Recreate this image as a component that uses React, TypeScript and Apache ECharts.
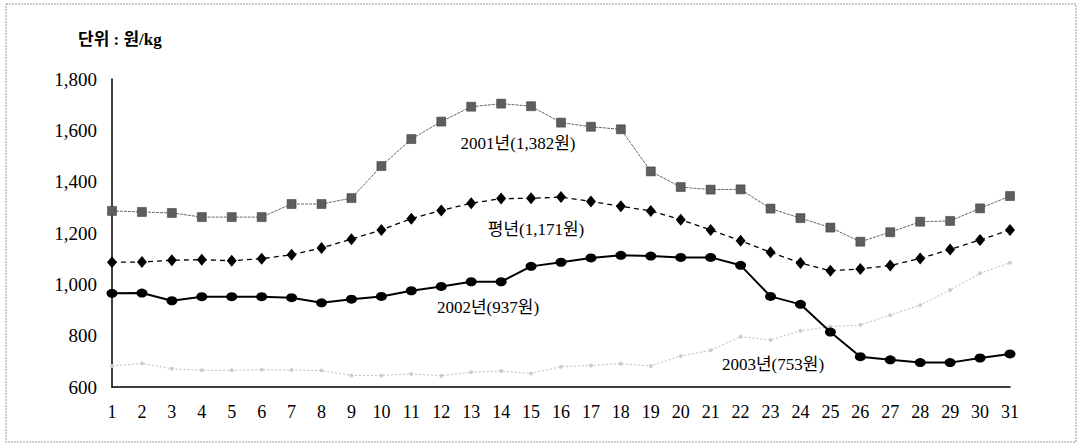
import React, { useEffect, useRef } from "react";
import * as echarts from "echarts";

const days = ["1","2","3","4","5","6","7","8","9","10","11","12","13","14","15","16","17","18","19","20","21","22","23","24","25","26","27","28","29","30","31"];
const y2001 = [1286,1282,1278,1262,1262,1262,1313,1313,1336,1461,1566,1634,1692,1704,1694,1630,1614,1604,1440,1379,1369,1370,1295,1258,1221,1166,1203,1244,1247,1296,1344];
const yAvg = [1086,1087,1094,1096,1092,1100,1115,1142,1176,1212,1256,1288,1316,1334,1335,1340,1323,1304,1286,1252,1212,1170,1125,1083,1053,1060,1073,1101,1136,1173,1212];
const y2002 = [965,966,936,952,952,952,948,928,942,953,975,992,1010,1010,1070,1086,1103,1113,1110,1105,1105,1074,953,922,814,718,706,695,695,713,729];
const y2003 = [682,692,671,665,665,667,666,664,645,645,651,644,658,662,653,679,684,691,682,721,743,796,783,819,835,842,880,919,978,1043,1084];
const seriesNames = ["2001년(1,382원)", "평년(1,171원)", "2002년(937원)", "2003년(753원)"];
const unitLabel = "단위 : 원/kg";

const FONT = "'Liberation Serif', 'DejaVu Serif', 'Noto Sans CJK KR', serif";

export default function App() {
  const ref = useRef<HTMLDivElement>(null);
  useEffect(() => {
    document.body.style.margin = "0";
    const chart = echarts.init(ref.current!, null, { renderer: "svg" });
    const ann = (text: string, x: number, y: number) => ({
      type: "text", x, y,
      style: { text, fontSize: 17, fill: "#000", fontFamily: FONT, align: "center", verticalAlign: "middle" },
    });
    chart.setOption({
      animation: false,
      backgroundColor: "#fff",
      textStyle: { fontFamily: FONT },
      grid: { left: 112, right: 70, top: 79, bottom: 59 },
      xAxis: {
        type: "category",
        data: days,
        boundaryGap: false,
        axisLine: { lineStyle: { color: "#000", width: 1.5 } },
        axisTick: { show: false },
        axisLabel: { color: "#000", fontSize: 18, fontFamily: FONT, margin: 16, interval: 0 },
      },
      yAxis: {
        type: "value",
        min: 600,
        max: 1800,
        interval: 200,
        axisLine: { show: true, lineStyle: { color: "#000", width: 1.5 } },
        axisTick: { show: false },
        splitLine: { show: false },
        axisLabel: {
          color: "#000",
          fontSize: 19,
          fontFamily: FONT,
          margin: 15,
          formatter: (v: number) => v.toLocaleString("en-US"),
        },
      },
      graphic: [
        { type: "rect", shape: { x: 6, y: 4, width: 1070, height: 438 }, style: { fill: "none", stroke: "#999", lineWidth: 1, lineDash: [2, 1] }, silent: true },
        { type: "text", x: 78, y: 39, style: { text: unitLabel, fontSize: 17, fontWeight: "bold", fill: "#000", fontFamily: FONT, verticalAlign: "middle" } },
        ann(seriesNames[0], 518, 143),
        ann(seriesNames[1], 536, 229),
        ann(seriesNames[2], 488, 307),
        ann(seriesNames[3], 773, 364),
      ],
      series: [
        {
          name: seriesNames[3], type: "line", data: y2003,
          lineStyle: { color: "#bbb", width: 1, type: [2, 2] },
          symbol: "circle", symbolSize: 4,
          itemStyle: { color: "#ccc" },
          z: 1,
        },
        {
          name: seriesNames[0], type: "line", data: y2001,
          lineStyle: { color: "#666", width: 1, type: [3, 1] },
          symbol: "rect", symbolSize: 9,
          itemStyle: { color: "#5e5e5e", borderColor: "#333", borderWidth: 0.5 },
          z: 2,
        },
        {
          name: seriesNames[1], type: "line", data: yAvg,
          lineStyle: { color: "#000", width: 1.3, type: [5, 4] },
          symbol: "diamond", symbolSize: [10, 12],
          itemStyle: { color: "#000" },
          z: 3,
        },
        {
          name: seriesNames[2], type: "line", data: y2002,
          lineStyle: { color: "#000", width: 2 },
          symbol: "circle", symbolSize: [11, 9],
          itemStyle: { color: "#000" },
          z: 4,
        },
      ],
    });
    return () => chart.dispose();
  }, []);
  return <div ref={ref} style={{ width: 1080, height: 446 }} />;
}
